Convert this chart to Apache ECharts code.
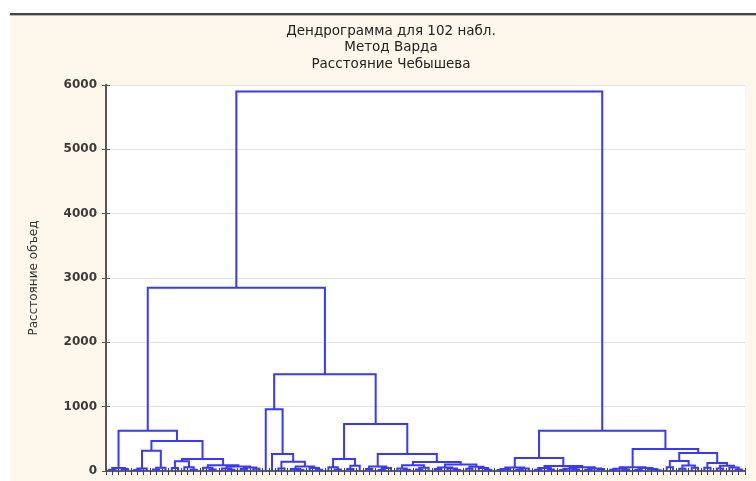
<!DOCTYPE html>
<html>
<head>
<meta charset="utf-8">
<script src="https://cdn.jsdelivr.net/npm/echarts@6/dist/echarts.min.js"></script>
<style>html,body{margin:0;padding:0;background:#fff;}#c{width:756px;height:481px;}</style>
</head>
<body>
<div id="c"></div>
<script>
// ---- text ----
const titleLines = ['Дендрограмма для 102 набл.', 'Метод Варда', 'Расстояние Чебышева'];
const yAxisName = 'Расстояние объед';
const yTickValues = [0, 1000, 2000, 3000, 4000, 5000, 6000];
const leafCount = 102;

// ---- tree: node = [mergeHeight, left, right]; a leaf = its position in the leaf order ----
const clusterA  = [45, [20, 0, 1], [30, 2, 3]];
const clusterB1 = [315, [40, [15, 4, 5], 6], [50, [25, 7, 8], 9]];
const clusterB2 = [187, [150, [45, 10, 11], [60, 12, [20, 13, 14]]],
                        [90, [50, 15, [25, 16, 17]], [70, [40, 18, [20, 19, 20]], [55, [30, 21, 22], [35, 23, 24]]]]];
const clusterLL = [627, clusterA, [467, clusterB1, clusterB2]];

const clusterC1  = [960, 25, [265, 26, [145, [40, 27, 28], [70, [30, 29, [15, 30, 31]], [45, 32, [20, 33, 34]]]]]];
const clusterC2L = [185, [60, 35, [25, 36, 37]], [80, [30, 38, 39], 40]];
const clusterC2RL = [70, [30, 41, 42], [45, [15, 43, 44], 45]];
const clusterC2RR = [140, [90, [40, 46, [20, 47, 48]], [50, [25, 49, 50], 51]],
                          [100, [55, [30, 52, 53], [40, 54, [15, 55, 56]]], [65, [35, 57, 58], [45, 59, [20, 60, 61]]]]];
const clusterC2 = [731, clusterC2L, [265, clusterC2RL, clusterC2RR]];
const leftBranch = [2850, clusterLL, [1504, clusterC1, clusterC2]];

const clusterRL = [202, [55, [30, [15, 62, 63], 64], [40, [20, 65, 66], 67]],
                        [78, [45, [20, 68, 69], [25, 70, 71]], [60, [35, [15, 72, 73], [25, 74, 75]], [40, [20, 76, 77], [30, 78, 79]]]]];
const clusterRR1  = [60, [35, [20, 80, 81], [25, 82, 83]], [45, [15, 84, 85], [30, 86, [10, 87, 88]]]];
const clusterRR2a = [155, [60, 89, 90], [85, [35, 91, 92], [50, 93, 94]]];
const clusterRR2b = [125, [50, 95, 96], [80, [40, 97, 98], [55, 99, [25, 100, 101]]]];
const rightBranch = [627, clusterRL, [342, clusterRR1, [280, clusterRR2a, clusterRR2b]]];

const rootNode = [5900, leftBranch, rightBranch];

// ---- build merge segments (data coordinates: leaf position, height) ----
const merges = [];
function layout(node) {
  if (typeof node === 'number') return { x: node + 0.5, h: 0 };
  const l = layout(node[1]);
  const r = layout(node[2]);
  merges.push([l.x, l.h, r.x, r.h, node[0]]);
  return { x: (l.x + r.x) / 2, h: node[0] };
}
layout(rootNode);

const chart = echarts.init(document.getElementById('c'), null, { renderer: 'canvas' });
const FONT = 'DejaVu Sans';
const axisColor = '#575757';

chart.setOption({
  animation: false,
  backgroundColor: '#ffffff',
  graphic: [
    { type: 'rect', z: -100, silent: true, shape: { x: 10, y: 15, width: 746, height: 466 }, style: { fill: '#fdf8eb' } },
    { type: 'line', z: -90, silent: true, shape: { x1: 10, y1: 14, x2: 756, y2: 14 }, style: { stroke: '#454545', lineWidth: 2 } },
    { type: 'line', z: -90, silent: true, shape: { x1: 10, y1: 15.5, x2: 756, y2: 15.5 }, style: { stroke: '#b5b5b5', lineWidth: 1 } }
  ],
  title: {
    text: titleLines.join('\n'),
    left: 386,
    top: 18,
    textAlign: 'center',
    textStyle: { fontFamily: FONT, fontSize: 13.5, fontWeight: 'normal', color: '#222', lineHeight: 16.5 }
  },
  grid: { left: 106, right: 11, top: 85, bottom: 10, show: true, backgroundColor: '#ffffff', borderWidth: 0 },
  xAxis: [
    {
      type: 'value', min: 0, max: leafCount, interval: 1, position: 'bottom',
      axisLine: { show: true, lineStyle: { color: axisColor, width: 1.5 } },
      axisTick: { show: true, inside: true, length: 3, lineStyle: { color: '#444', width: 1 } },
      axisLabel: { show: false }, splitLine: { show: false }
    },
    {
      type: 'value', min: 0, max: leafCount, interval: 1, position: 'top',
      axisLine: { show: true, lineStyle: { color: axisColor, width: 1.5 } },
      axisTick: { show: true, inside: true, length: 4, lineStyle: { color: '#444', width: 1 } },
      axisLabel: { show: false }, splitLine: { show: false }
    }
  ],
  yAxis: [
    {
      type: 'value', min: yTickValues[0], max: yTickValues[yTickValues.length - 1], interval: 1000, position: 'left',
      name: yAxisName, nameLocation: 'middle', nameGap: 66, nameRotate: 90,
      nameTextStyle: { fontFamily: FONT, fontSize: 12, color: '#333' },
      axisLine: { show: true, lineStyle: { color: axisColor, width: 2 } },
      axisTick: { show: true, inside: true, length: 4, lineStyle: { color: '#555' } },
      axisLabel: { fontFamily: FONT, fontSize: 12, fontWeight: 'bold', color: '#3a3a3a', margin: 9,
                   formatter: function (v) { return String(v); } },
      splitLine: { show: true, lineStyle: { color: '#e2e2e2', width: 1 } }
    },
    {
      type: 'value', min: yTickValues[0], max: yTickValues[yTickValues.length - 1], interval: 1000, position: 'right',
      axisLine: { show: true, lineStyle: { color: axisColor, width: 2 } },
      axisTick: { show: true, inside: true, length: 4, lineStyle: { color: '#555' } },
      axisLabel: { show: false }, splitLine: { show: false }
    }
  ],
  series: [{
    type: 'custom',
    xAxisIndex: 0, yAxisIndex: 0,
    data: merges,
    encode: { x: [0, 2], y: [1, 3, 4] },
    renderItem: function (params, api) {
      const xl = api.value(0), yl = api.value(1), xr = api.value(2), yr = api.value(3), h = api.value(4);
      const p1 = api.coord([xl, yl]);
      const p2 = api.coord([xl, h]);
      const p3 = api.coord([xr, h]);
      const p4 = api.coord([xr, yr]);
      return {
        type: 'polyline',
        shape: { points: [p1, p2, p3, p4] },
        style: { stroke: '#3838ff', lineWidth: 2, fill: null }
      };
    }
  }]
});
</script>
</body>
</html>
